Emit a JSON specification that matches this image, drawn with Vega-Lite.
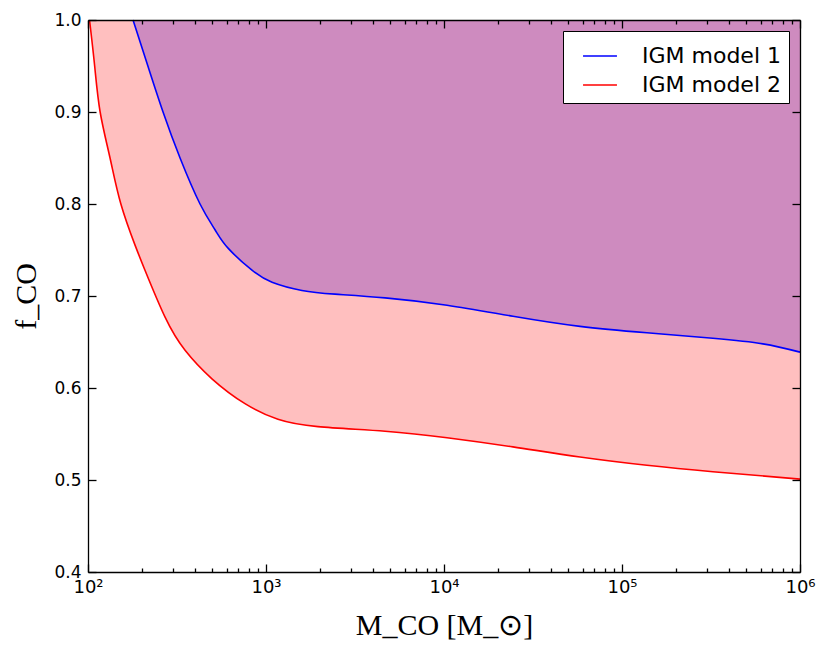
{
  "$schema": "https://vega.github.io/schema/vega-lite/v6.json",
  "width": 712,
  "height": 552,
  "autosize": {"type": "none"},
  "padding": {"left": 88, "top": 20, "right": 31, "bottom": 79},
  "background": "white",
  "config": {
    "view": {"stroke": null},
    "axis": {"grid": false, "zindex": 2, "domainColor": "black", "domainWidth": 1.3, "tickColor": "black", "tickWidth": 1.3, "tickOpacity": 1, "labelFlush": false, "labelFont": "DejaVu Sans", "labelColor": "black", "titleFont": "Liberation Serif", "titleFontWeight": "normal", "titleColor": "black"}
  },
  "datasets": {
    "blue": [
      {"M": 179, "f": 1.0, "model": "IGM model 1"},
      {"M": 217, "f": 0.95, "model": "IGM model 1"},
      {"M": 264, "f": 0.90, "model": "IGM model 1"},
      {"M": 329, "f": 0.85, "model": "IGM model 1"},
      {"M": 426, "f": 0.80, "model": "IGM model 1"},
      {"M": 517, "f": 0.772, "model": "IGM model 1"},
      {"M": 612, "f": 0.752, "model": "IGM model 1"},
      {"M": 834, "f": 0.728, "model": "IGM model 1"},
      {"M": 1081, "f": 0.715, "model": "IGM model 1"},
      {"M": 1592, "f": 0.706, "model": "IGM model 1"},
      {"M": 2443, "f": 0.702, "model": "IGM model 1"},
      {"M": 4665, "f": 0.698, "model": "IGM model 1"},
      {"M": 10400, "f": 0.690, "model": "IGM model 1"},
      {"M": 24400, "f": 0.678, "model": "IGM model 1"},
      {"M": 58100, "f": 0.667, "model": "IGM model 1"},
      {"M": 138000, "f": 0.660, "model": "IGM model 1"},
      {"M": 324000, "f": 0.654, "model": "IGM model 1"},
      {"M": 619000, "f": 0.648, "model": "IGM model 1"},
      {"M": 1000000, "f": 0.639, "model": "IGM model 1"}
    ],
    "red": [
      {"M": 102, "f": 1.0, "model": "IGM model 2"},
      {"M": 109, "f": 0.95, "model": "IGM model 2"},
      {"M": 117, "f": 0.90, "model": "IGM model 2"},
      {"M": 133, "f": 0.85, "model": "IGM model 2"},
      {"M": 153, "f": 0.80, "model": "IGM model 2"},
      {"M": 184, "f": 0.755, "model": "IGM model 2"},
      {"M": 209, "f": 0.728, "model": "IGM model 2"},
      {"M": 271, "f": 0.677, "model": "IGM model 2"},
      {"M": 351, "f": 0.641, "model": "IGM model 2"},
      {"M": 497, "f": 0.610, "model": "IGM model 2"},
      {"M": 762, "f": 0.583, "model": "IGM model 2"},
      {"M": 1167, "f": 0.566, "model": "IGM model 2"},
      {"M": 1959, "f": 0.558, "model": "IGM model 2"},
      {"M": 4665, "f": 0.553, "model": "IGM model 2"},
      {"M": 10400, "f": 0.546, "model": "IGM model 2"},
      {"M": 24400, "f": 0.536, "model": "IGM model 2"},
      {"M": 58100, "f": 0.525, "model": "IGM model 2"},
      {"M": 138000, "f": 0.516, "model": "IGM model 2"},
      {"M": 324000, "f": 0.509, "model": "IGM model 2"},
      {"M": 1000000, "f": 0.501, "model": "IGM model 2"}
    ]
  },
  "layer": [
    {
      "data": {"name": "red"},
      "mark": {"type": "area", "interpolate": "natural", "color": "#ffbfbf", "opacity": 1},
      "encoding": {
        "x": {"field": "M", "type": "quantitative", "scale": {"type": "log", "domain": [100, 1000000], "nice": false},
              "axis": {"orient": "bottom", "zindex": 5, "ticks": true, "values": [100, 1000, 10000, 100000, 1000000], "offset": -8, "tickSize": 8, "domain": false, "labelPadding": 6, "labelFontSize": 18,
                       "labelExpr": "'10' + ['⁰','¹','²','³','⁴','⁵','⁶'][round(log(datum.value)/LN10)]",
                       "title": "M_CO [M_⊙]", "titleFontSize": 30, "titlePadding": 14}},
        "y": {"field": "f", "type": "quantitative", "scale": {"domain": [0.4, 1.0], "nice": false, "zero": false},
              "axis": {"orient": "left", "zindex": 5, "ticks": true, "values": [0.4, 0.5, 0.6, 0.7, 0.8, 0.9, 1.0], "format": ".1f", "offset": -8, "tickSize": 8, "domain": false, "labelPadding": 7, "labelFontSize": 17,
                       "title": "f_CO", "titleFontSize": 30, "titlePadding": 12}},
        "y2": {"datum": 1.0}
      }
    },
    {
      "data": {"name": "blue"},
      "mark": {"type": "area", "interpolate": "natural", "color": "#ce8bbf", "opacity": 1},
      "encoding": {
        "x": {"field": "M", "type": "quantitative",
              "axis": {"orient": "top", "zindex": 5, "ticks": true, "values": [100, 1000, 10000, 100000, 1000000], "offset": -8, "tickSize": 8, "domain": false, "labels": false, "title": null}},
        "y": {"field": "f", "type": "quantitative",
              "axis": {"orient": "right", "zindex": 5, "ticks": true, "values": [0.4, 0.5, 0.6, 0.7, 0.8, 0.9, 1.0], "offset": -8, "tickSize": 8, "domain": false, "labels": false, "title": null}},
        "y2": {"datum": 1.0}
      }
    },
    {
      "data": {"name": "red"},
      "mark": {"type": "line", "interpolate": "natural", "strokeWidth": 1.6},
      "encoding": {
        "x": {"field": "M", "type": "quantitative",
              "axis": {"orient": "bottom", "zindex": 5, "ticks": true, "values": [200,300,400,500,600,700,800,900,2000,3000,4000,5000,6000,7000,8000,9000,20000,30000,40000,50000,60000,70000,80000,90000,200000,300000,400000,500000,600000,700000,800000,900000], "offset": -4, "tickSize": 4, "labels": false, "domain": false, "title": null}},
        "y": {"field": "f", "type": "quantitative",
              "axis": {"orient": "left", "zindex": 5, "ticks": false, "labels": false, "domain": true, "title": null}},
        "color": {"field": "model", "type": "nominal", "scale": {"domain": ["IGM model 1", "IGM model 2"], "range": ["#0000ff", "#ff0000"]},
                  "legend": {"title": null, "orient": "top-right", "offset": 11, "symbolType": "stroke", "symbolSize": 1150, "symbolStrokeWidth": 1.6, "symbolOffset": 12, "labelFontSize": 22, "labelFont": "DejaVu Sans", "labelColor": "black", "labelOffset": 24, "rowPadding": 0, "padding": 7, "strokeColor": "black", "fillColor": "white", "cornerRadius": 0, "zindex": 6}}
      }
    },
    {
      "data": {"name": "blue"},
      "mark": {"type": "line", "interpolate": "natural", "strokeWidth": 1.6},
      "encoding": {
        "x": {"field": "M", "type": "quantitative",
              "axis": {"orient": "top", "zindex": 5, "ticks": true, "values": [200,300,400,500,600,700,800,900,2000,3000,4000,5000,6000,7000,8000,9000,20000,30000,40000,50000,60000,70000,80000,90000,200000,300000,400000,500000,600000,700000,800000,900000], "offset": -4, "tickSize": 4, "labels": false, "domain": false, "title": null}},
        "y": {"field": "f", "type": "quantitative",
              "axis": {"orient": "right", "zindex": 5, "ticks": false, "labels": false, "domain": true, "title": null}},
        "color": {"field": "model", "type": "nominal"}
      }
    },
    {
      "data": {"name": "red"},
      "mark": {"type": "line", "opacity": 0},
      "encoding": {
        "x": {"field": "M", "type": "quantitative",
              "axis": {"orient": "bottom", "zindex": 5, "ticks": false, "labels": false, "domain": true, "title": null}},
        "y": {"field": "f", "type": "quantitative", "axis": null}
      }
    },
    {
      "data": {"name": "blue"},
      "mark": {"type": "line", "opacity": 0},
      "encoding": {
        "x": {"field": "M", "type": "quantitative",
              "axis": {"orient": "top", "zindex": 5, "ticks": false, "labels": false, "domain": true, "title": null}},
        "y": {"field": "f", "type": "quantitative", "axis": null}
      }
    }
  ],
  "resolve": {"axis": {"x": "independent", "y": "independent"}}
}
